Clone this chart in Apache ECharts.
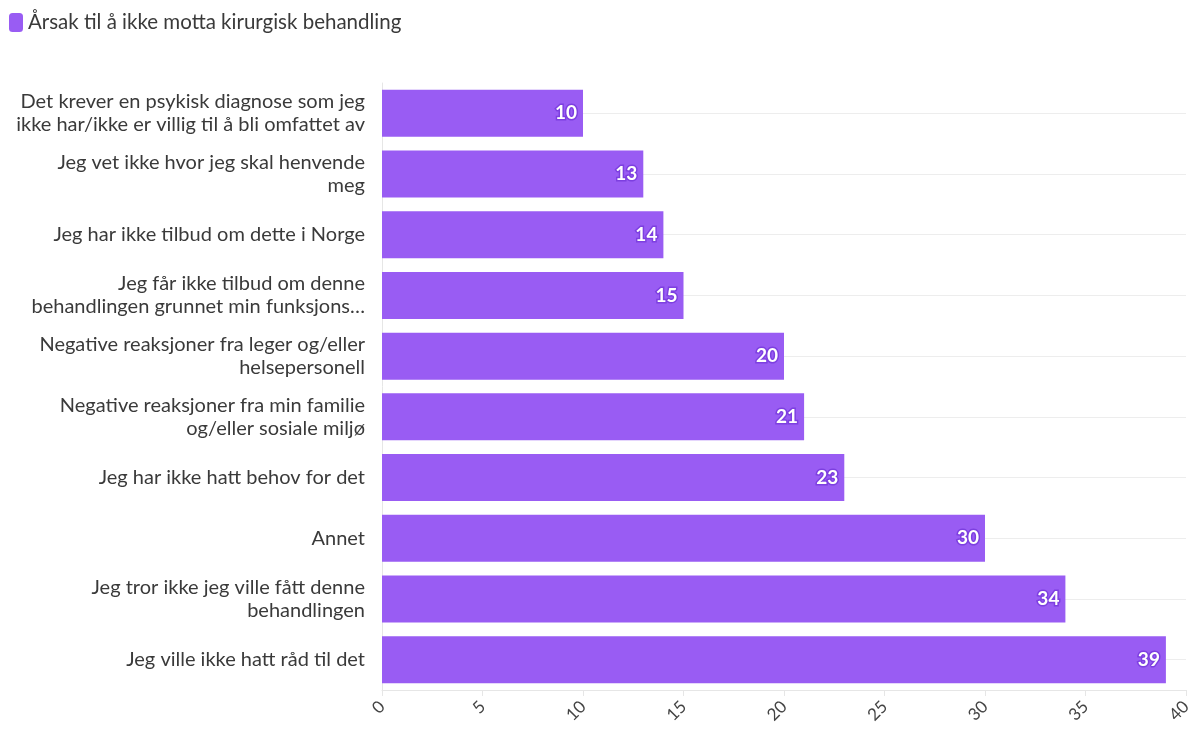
<!DOCTYPE html>
<html>
<head>
<meta charset="utf-8">
<script src="https://cdn.jsdelivr.net/npm/echarts@6/dist/echarts.min.js"></script>
<style>
  html, body { margin: 0; padding: 0; background: #fff; }
  #chart { width: 1196px; height: 731px; }
</style>
</head>
<body>
<div id="chart"></div>
<script>
// data, top to bottom as shown in the picture
var seriesName = 'Årsak til å ikke motta kirurgisk behandling';
var categories = [
  'Det krever en psykisk diagnose som jeg\nikke har/ikke er villig til å bli omfattet av',
  'Jeg vet ikke hvor jeg skal henvende\nmeg',
  'Jeg har ikke tilbud om dette i Norge',
  'Jeg får ikke tilbud om denne\nbehandlingen grunnet min funksjons…',
  'Negative reaksjoner fra leger og/eller\nhelsepersonell',
  'Negative reaksjoner fra min familie\nog/eller sosiale miljø',
  'Jeg har ikke hatt behov for det',
  'Annet',
  'Jeg tror ikke jeg ville fått denne\nbehandlingen',
  'Jeg ville ikke hatt råd til det'
];
var values = [10, 13, 14, 15, 20, 21, 23, 30, 34, 39];

var purple = '#995cf3';
var textColor = '#3a3a3a';
var fontFamily = 'Lato, "Source Sans Pro", sans-serif';

// helper axis with two slots per category so grid lines can sit at bar centres
var halfSlots = [];
for (var i = 0; i < categories.length * 2; i++) {
  halfSlots.push('');
}

var chart = echarts.init(document.getElementById('chart'));
var option = {
  textStyle: { fontFamily: fontFamily },
  legend: {
    left: 9,
    top: 12,
    padding: 0,
    icon: 'roundRect',
    itemWidth: 14,
    itemHeight: 19,
    itemGap: 10,
    textStyle: { fontSize: 20.5, color: textColor, fontFamily: fontFamily },
    data: [seriesName]
  },
  grid: {
    left: 382,
    right: 10,
    top: 83,
    bottom: 41,
    containLabel: false
  },
  xAxis: {
    type: 'value',
    min: 0,
    max: 40,
    interval: 5,
    axisLine: { show: true, lineStyle: { color: '#e6e6e6' } },
    axisTick: { show: true, length: 6, lineStyle: { color: '#e6e6e6' } },
    axisLabel: {
      rotate: 45,
      fontSize: 17,
      color: '#444',
      margin: 14,
      fontFamily: fontFamily
    },
    splitLine: { show: false }
  },
  yAxis: [{
    type: 'category',
    inverse: true,
    data: categories,
    axisLine: { show: true, lineStyle: { color: '#e6e6e6' } },
    axisTick: { show: false },
    splitLine: { show: false },
    axisLabel: {
      fontSize: 20,
      lineHeight: 23,
      color: textColor,
      margin: 17,
      align: 'right',
      fontFamily: fontFamily
    }
  }, {
    type: 'category',
    position: 'left',
    inverse: true,
    data: halfSlots,
    axisLine: { show: false },
    axisTick: { show: false },
    axisLabel: { show: false },
    splitLine: {
      show: true,
      interval: function (index) { return index % 2 === 1; },
      lineStyle: { color: '#ededed', width: 1 }
    }
  }],
  series: [{
    name: seriesName,
    type: 'bar',
    yAxisIndex: 0,
    barWidth: 47,
    itemStyle: { color: purple },
    label: {
      show: true,
      position: 'insideRight',
      distance: 6,
      color: '#fff',
      fontSize: 19,
      fontWeight: 'bold',
      textBorderColor: '#7d3fe0',
      textBorderWidth: 3,
      fontFamily: fontFamily
    },
    data: values
  }],
  animation: false
};
chart.setOption(option);
</script>
</body>
</html>
